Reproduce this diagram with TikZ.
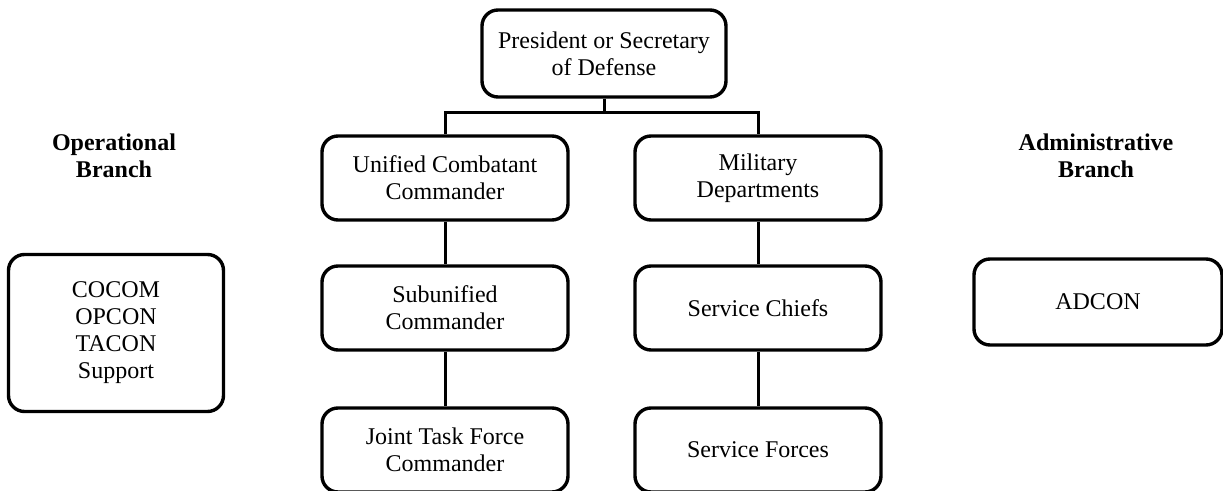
\documentclass[tikz,border=0pt]{standalone}
\usepackage{fontspec}
\setmainfont{Liberation Serif}
\begin{document}
\begin{tikzpicture}[
      x=0.5pt, y=-0.5pt,
      box/.style={draw=black, line width=1.7pt, rounded corners=8pt, align=center,
        minimum width=123pt, minimum height=42pt, inner sep=2pt,
        font=\fontsize{12}{13.5}\selectfont},
      branch/.style={align=center, font=\fontsize{12}{13.5}\selectfont\bfseries},
      link/.style={draw=black, line width=1.5pt}
    ]
    \useasboundingbox (0,0) rectangle (1223,491);

    % Top of the chain
    \node[box, minimum width=122pt, minimum height=43.5pt] (pres) at (604,53.5) {President or Secretary\\of Defense};

    % Operational column
    \node[box] (ucc) at (445,178) {Unified Combatant\\Commander};
    \node[box] (sub) at (445,308) {Subunified\\Commander};
    \node[box] (jtf) at (445,450) {Joint Task Force\\Commander};

    % Administrative column
    \node[box] (mildep) at (758,178) {Military\\Departments};
    \node[box] (chiefs) at (758,308) {Service Chiefs};
    \node[box] (forces) at (758,450) {Service Forces};

    % Branch titles and their authorities
    \node[branch] (opbranch) at (114,156) {Operational\\Branch};
    \node[branch] (adbranch) at (1096,156) {Administrative\\Branch};
    \node[box, minimum width=107.5pt, minimum height=78.5pt] (opbox) at (116,333) {COCOM\\OPCON\\TACON\\Support};
    \node[box, minimum width=124pt, minimum height=43pt] (adbox) at (1098,302) {ADCON};

    % Connectors
    \coordinate (bar) at (601,113);
    \draw[link] (pres.south) -- (pres.south |- bar);
    \draw[link] (ucc.north) |- (mildep.north |- bar) -- (mildep.north);
    \foreach \a/\b in {ucc/sub, sub/jtf, mildep/chiefs, chiefs/forces} {
      \draw[link] (\a) -- (\b);
    }
  \end{tikzpicture}
\end{document}
